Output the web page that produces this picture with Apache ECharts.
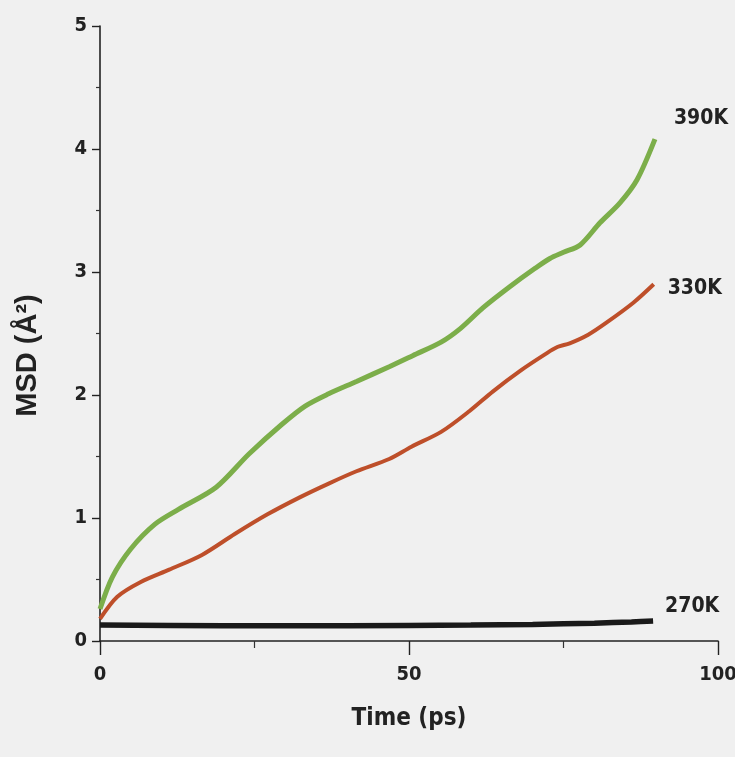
<!DOCTYPE html>
<html>
<head>
<meta charset="utf-8">
<script src="https://cdn.jsdelivr.net/npm/echarts@6/dist/echarts.min.js"></script>
<style>
html,body{margin:0;padding:0;background:#f0f0f0;}
#chart{width:735px;height:757px;}
</style>
</head>
<body>
<div id="chart"></div>
<script>
// Time (ps) and MSD (Å²) values
const t390 = [0, 2, 5, 8.9, 12.7, 18.8, 24.1, 29.4, 33.2, 37, 41.5, 46.8, 50.6, 55.2, 58.3, 62, 66.3, 70.4, 72.8, 75, 77.7, 80.9, 84.1, 86.9, 89.8];
const msd390 = [0.26, 0.52, 0.75, 0.95, 1.07, 1.25, 1.52, 1.76, 1.91, 2.01, 2.11, 2.23, 2.32, 2.43, 2.54, 2.71, 2.88, 3.03, 3.11, 3.16, 3.22, 3.40, 3.56, 3.75, 4.08];

const t330 = [0, 2.8, 6.6, 11.2, 16.5, 21.8, 27.1, 32.4, 37, 41.5, 46.8, 50.4, 55.2, 59.8, 63.6, 68.1, 72, 74, 76, 79, 82, 86.3, 89.6];
const msd330 = [0.18, 0.36, 0.48, 0.58, 0.70, 0.87, 1.03, 1.17, 1.28, 1.38, 1.48, 1.58, 1.70, 1.87, 2.03, 2.20, 2.33, 2.39, 2.42, 2.49, 2.59, 2.75, 2.90];

const t270 = [0, 20, 40, 60, 70, 80, 86, 89.5];
const msd270 = [0.13, 0.125, 0.125, 0.13, 0.135, 0.145, 0.155, 0.163];

const seriesNames = ['390K', '330K', '270K'];
const xTicks = [0, 50, 100];
const yTicks = [0, 1, 2, 3, 4, 5];

const pair = (xs, ys) => xs.map((x, i) => [x, ys[i]]);

const narrow = "'Liberation Sans Narrow', 'Arial Narrow', 'DejaVu Sans Condensed', sans-serif";

const chart = echarts.init(document.getElementById('chart'), null, {renderer: 'canvas'});
chart.setOption({
  backgroundColor: '#f0f0f0',
  animation: false,
  grid: {left: 100, right: 17, top: 26, bottom: 116, containLabel: false, outerBoundsMode: 'none'},
  xAxis: {
    type: 'value', min: xTicks[0], max: xTicks[xTicks.length - 1], interval: 50,
    name: 'Time (ps)', nameLocation: 'middle', nameGap: 66,
    nameTextStyle: {fontFamily: narrow, fontWeight: 'bold', fontSize: 24, color: '#222'},
    axisLine: {show: true, onZero: false, lineStyle: {color: '#222', width: 1.6}},
    axisTick: {show: true, length: 14, lineStyle: {color: '#222', width: 1.4}},
    minorTick: {show: true, splitNumber: 2, length: 7, lineStyle: {color: '#333', width: 1.2}},
    axisLabel: {fontFamily: narrow, fontWeight: 'bold', fontSize: 20, color: '#222', margin: 24},
    splitLine: {show: false}
  },
  yAxis: {
    type: 'value', min: yTicks[0], max: yTicks[yTicks.length - 1], interval: 1,
    name: 'MSD (Å²)', nameLocation: 'middle', nameGap: 58, nameRotate: 90,
    nameTextStyle: {fontFamily: "'Liberation Sans', Arial, sans-serif", fontWeight: 'bold', fontSize: 29, color: '#222', padding: [0, 44, 0, 0]},
    axisLine: {show: true, onZero: false, lineStyle: {color: '#222', width: 1.6}},
    axisTick: {show: true, length: 8, lineStyle: {color: '#222', width: 1.4}},
    minorTick: {show: true, splitNumber: 2, length: 4, lineStyle: {color: '#333', width: 1.2}},
    axisLabel: {fontFamily: narrow, fontWeight: 'bold', fontSize: 20, color: '#222', margin: 13},
    splitLine: {show: false}
  },
  series: [
    {
      name: seriesNames[0], type: 'line', data: pair(t390, msd390), smooth: 0.3, symbol: 'none',
      lineStyle: {color: '#7cae4a', width: 5},
      endLabel: {show: true, formatter: '{a}', fontFamily: narrow, fontWeight: 'bold', fontSize: 21, color: '#222', distance: 5, offset: [14, -21]}
    },
    {
      name: seriesNames[1], type: 'line', data: pair(t330, msd330), smooth: 0.3, symbol: 'none',
      lineStyle: {color: '#be4f2a', width: 4},
      endLabel: {show: true, formatter: '{a}', fontFamily: narrow, fontWeight: 'bold', fontSize: 21, color: '#222', distance: 5, offset: [9, 4]}
    },
    {
      name: seriesNames[2], type: 'line', data: pair(t270, msd270), smooth: 0.3, symbol: 'none',
      lineStyle: {color: '#1a1a1a', width: 5.5},
      endLabel: {show: true, formatter: '{a}', fontFamily: narrow, fontWeight: 'bold', fontSize: 21, color: '#222', distance: 5, offset: [7, -14]}
    }
  ]
});
</script>
</body>
</html>
